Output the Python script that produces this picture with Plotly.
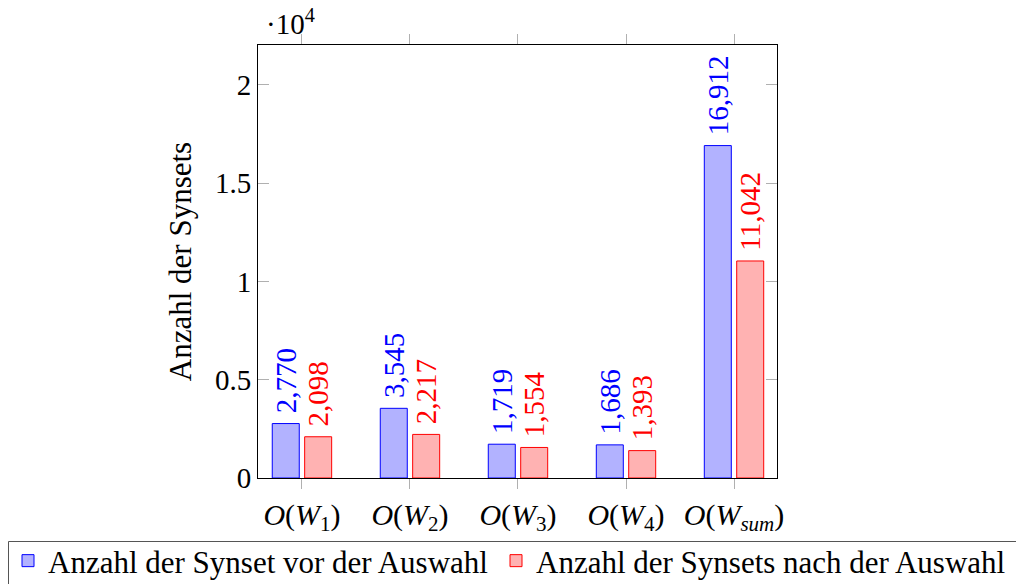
import plotly.graph_objects as go

categories = ["O(W1)", "O(W2)", "O(W3)", "O(W4)", "O(Wsum)"]
tick_labels = ["<i>O</i>(<i>W</i><sub>1</sub>)", "<i>O</i>(<i>W</i><sub>2</sub>)",
               "<i>O</i>(<i>W</i><sub>3</sub>)", "<i>O</i>(<i>W</i><sub>4</sub>)",
               "<i>O</i>(<i>W</i><sub><i>sum</i></sub>)"]
before = [2770, 3545, 1719, 1686, 16912]
after = [2098, 2217, 1554, 1393, 11042]
y_ticks = [0, 5000, 10000, 15000, 20000]
y_tick_text = ["0", "0.5", "1", "1.5", "2"]
names = ["Anzahl der Synset vor der Auswahl", "Anzahl der Synsets nach der Auswahl"]

FONT = "Liberation Serif"
xpos = list(range(len(categories)))

def fmt(v):
    return "&nbsp;" + f"{v:,}"

fig = go.Figure()
fig.add_trace(go.Bar(
    x=xpos, y=before, width=0.25, offset=-0.275,
    marker=dict(color="rgb(178,178,255)", line=dict(color="rgb(0,0,255)", width=1)),
    text=[fmt(v) for v in before], textposition="outside", textangle=-90,
    textfont=dict(color="rgb(0,0,255)", size=29, family=FONT),
    constraintext="none", cliponaxis=False,
    name=names[0], legend="legend",
))
fig.add_trace(go.Bar(
    x=xpos, y=after, width=0.25, offset=0.025,
    marker=dict(color="rgb(255,178,178)", line=dict(color="rgb(255,0,0)", width=1)),
    text=[fmt(v) for v in after], textposition="outside", textangle=-90,
    textfont=dict(color="rgb(255,0,0)", size=29, family=FONT),
    constraintext="none", cliponaxis=False,
    name=names[1], legend="legend2",
))

leg_common = dict(
    orientation="h", xref="container", yref="container",
    xanchor="left", yanchor="top",
    borderwidth=0, bgcolor="rgba(0,0,0,0)",
    font=dict(size=31, family=FONT, color="black"),
)

fig.update_layout(
    width=1016, height=584,
    margin=dict(l=258, r=239, t=45, b=106, autoexpand=False),
    plot_bgcolor="white", paper_bgcolor="white",
    barmode="overlay",
    font=dict(family=FONT, size=29, color="black"),
    showlegend=True,
    legend=dict(x=8/1016, y=1-534/584, **leg_common),
    legend2=dict(x=496/1016, y=1-534/584, **leg_common),
    shapes=[dict(
        type="rect", xref="paper", yref="paper",
        x0=(8.5-258)/519, x1=(1030-258)/519,
        y0=(478-541.5)/433, y1=(478-600)/433,
        line=dict(color="#555", width=1), fillcolor="rgba(0,0,0,0)", layer="above",
    )],
    annotations=[dict(
        text="·10<sup>4</sup>", xref="paper", yref="paper", x=0, y=1,
        xanchor="left", yanchor="bottom", xshift=6, yshift=3, showarrow=False,
        font=dict(size=29, family=FONT, color="black"),
    )],
)
fig.update_xaxes(
    range=[-0.407, 4.398], tickvals=xpos, ticktext=tick_labels,
    showline=True, linecolor="black", linewidth=1, mirror="ticks",
    ticks="outside", ticklen=10, tickcolor="#b0b0b0", tickwidth=1,
    showgrid=False, zeroline=False,
    tickfont=dict(size=30, family=FONT, color="black"),
)
fig.update_yaxes(
    range=[0, 22030], tickvals=y_ticks, ticktext=y_tick_text,
    showline=True, linecolor="black", linewidth=1, mirror="ticks",
    ticks="inside", ticklen=11, tickcolor="#b0b0b0", tickwidth=1,
    showgrid=False, zeroline=False,
    tickfont=dict(size=29, family=FONT, color="black"),
    title=dict(text="Anzahl der Synsets", standoff=14,
               font=dict(size=31, family=FONT, color="black")),
)

fig.write_html("out.html")
